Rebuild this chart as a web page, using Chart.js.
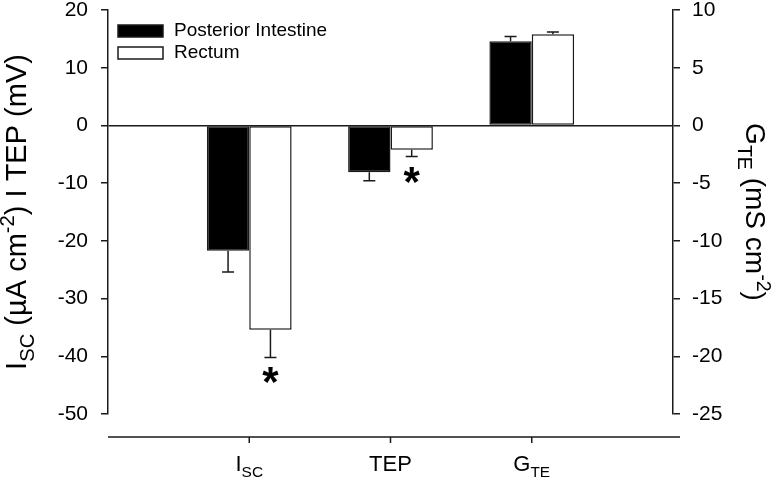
<!DOCTYPE html>
<html>
<head>
<meta charset="utf-8">
<script src="https://cdn.jsdelivr.net/npm/chart.js@4.4.0/dist/chart.umd.min.js"></script>
<style>
  html, body { margin: 0; padding: 0; background: #fff; }
  #wrap { width: 776px; height: 484px; }
</style>
</head>
<body>
<div id="wrap"><canvas id="chart" width="776" height="484"></canvas></div>
<script>
// categories (main text + subscript part)
const categoryNames = ['I', 'TEP', 'G'];
const categorySubs = ['SC', '', 'TE'];
// I_SC and TEP read on the left axis, G_TE on the right axis
const categoryAxis = ['yL', 'yL', 'yR'];

const seriesNames = ['Posterior Intestine', 'Rectum'];
const posteriorMean = [-21.7, -8.1, 7.3];
const posteriorErr = [3.7, 1.5, 0.4];
const rectumMean = [-35.4, -4.2, 7.9];
const rectumErr = [4.8, 1.2, 0.2];
const rectumSignificant = [true, true, false];
const posteriorSignificant = [false, false, false];

const leftTicks = [-50, -40, -30, -20, -10, 0, 10, 20];
const rightTicks = [-25, -20, -15, -10, -5, 0, 5, 10];

const INK = '#1a1a1a';
const FONT = 'Arial, "Liberation Sans", sans-serif';

// empty slots at both ends so the three groups sit at 1/4, 2/4, 3/4 of the axis
const xLabels = ['', ...categoryNames.map((n, i) => n + (categorySubs[i] ? '_' + categorySubs[i] : '')), ''];

// put a value in the slot only when its category belongs to the given axis
function slot(values, axisId) {
    return [null, ...values.map((v, i) => categoryAxis[i] === axisId ? v : null), null];
}

function makeSets(name, mean, err, sig, fill, stack) {
    return ['yL', 'yR'].map(axisId => ({
        label: name,
        data: slot(mean, axisId),
        errors: slot(err, axisId),
        marks: slot(sig, axisId),
        yAxisID: axisId,
        stack: stack,
        backgroundColor: fill,
        borderColor: INK,
        borderWidth: 1.5,
        borderSkipped: false,
    }));
}

const datasets = [
    ...makeSets(seriesNames[0], posteriorMean, posteriorErr, posteriorSignificant, '#000', 'pi'),
    ...makeSets(seriesNames[1], rectumMean, rectumErr, rectumSignificant, '#fff', 'r'),
];

// error bars + significance stars
const errorBarPlugin = {
    id: 'errorBars',
    afterDatasetsDraw(chart) {
        const ctx = chart.ctx;
        ctx.save();
        chart.data.datasets.forEach((ds, d) => {
            const meta = chart.getDatasetMeta(d);
            const yScale = chart.scales[ds.yAxisID];
            ds.data.forEach((v, i) => {
                if (v === null) return;
                const bar = meta.data[i];
                const tip = v + Math.sign(v) * ds.errors[i];
                const y1 = yScale.getPixelForValue(tip);
                ctx.strokeStyle = INK;
                ctx.lineWidth = 1.5;
                ctx.beginPath();
                ctx.moveTo(bar.x, bar.y);
                ctx.lineTo(bar.x, y1);
                ctx.moveTo(bar.x - 6, y1);
                ctx.lineTo(bar.x + 6, y1);
                ctx.stroke();

                if (ds.marks[i]) {
                    ctx.font = 'bold 42px ' + FONT;
                    ctx.fillStyle = '#000';
                    ctx.textAlign = 'center';
                    ctx.textBaseline = 'alphabetic';
                    const m = ctx.measureText('*');
                    const cy = y1 + Math.sign(v) * -18;
                    const base = cy + (m.actualBoundingBoxAscent - m.actualBoundingBoxDescent) / 2;
                    ctx.fillText('*', bar.x, base);
                }
            });
        });
        ctx.restore();
    }
};

// draw text made of parts: [text, 'n'|'sub'|'sup']
function drawParts(ctx, parts, size, startX, baseY) {
    let x = startX;
    parts.forEach(([t, kind]) => {
        const s = kind === 'n' ? size : size * 0.7;
        const dy = kind === 'sub' ? size * 0.28 : kind === 'sup' ? -size * 0.4 : 0;
        ctx.font = s + 'px ' + FONT;
        ctx.fillText(t, x, baseY + dy);
        x += ctx.measureText(t).width;
    });
}

function partsWidth(ctx, parts, size) {
    return parts.reduce((w, [t, kind]) => {
        ctx.font = (kind === 'n' ? size : size * 0.7) + 'px ' + FONT;
        return w + ctx.measureText(t).width;
    }, 0);
}

// bottom axis line (set below the plot), tick marks, labels, titles, legend
const decorPlugin = {
    id: 'decor',
    afterDraw(chart) {
        const ctx = chart.ctx;
        const area = chart.chartArea;
        const xScale = chart.scales.x;
        ctx.save();
        ctx.fillStyle = '#000';
        ctx.textAlign = 'left';
        ctx.textBaseline = 'alphabetic';

        // x axis
        const axisY = area.bottom + 23;
        ctx.strokeStyle = INK;
        ctx.lineWidth = 1.5;
        ctx.beginPath();
        ctx.moveTo(area.left, axisY);
        ctx.lineTo(area.right + 7, axisY);
        categoryNames.forEach((n, i) => {
            const px = xScale.getPixelForValue(i + 1);
            ctx.moveTo(px, axisY);
            ctx.lineTo(px, axisY + 6);
        });
        ctx.stroke();

        categoryNames.forEach((n, i) => {
            const px = xScale.getPixelForValue(i + 1);
            const parts = [[n, 'n']];
            if (categorySubs[i]) parts.push([categorySubs[i], 'sub']);
            const w = partsWidth(ctx, parts, 22);
            drawParts(ctx, parts, 22, px - w / 2, axisY + 34);
        });

        // left title
        const midY = (area.top + area.bottom) / 2;
        const leftTitle = [['I', 'n'], ['SC', 'sub'], [' (\u00B5A cm', 'n'], ['-2', 'sup'], [') I TEP (mV)', 'n']];
        ctx.save();
        ctx.translate(26, midY);
        ctx.rotate(-Math.PI / 2);
        drawParts(ctx, leftTitle, 29, -partsWidth(ctx, leftTitle, 29) / 2, 0);
        ctx.restore();

        // right title
        const rightTitle = [['G', 'n'], ['TE', 'sub'], [' (mS cm', 'n'], ['-2', 'sup'], [')', 'n']];
        ctx.save();
        ctx.translate(746, midY);
        ctx.rotate(Math.PI / 2);
        drawParts(ctx, rightTitle, 28, -partsWidth(ctx, rightTitle, 28) / 2, 0);
        ctx.restore();

        // legend
        const fills = ['#000', '#fff'];
        seriesNames.forEach((name, i) => {
            const bx = area.left + 10;
            const by = area.top + 15 + i * 22;
            ctx.fillStyle = fills[i];
            ctx.fillRect(bx, by, 45, 12);
            ctx.strokeStyle = INK;
            ctx.lineWidth = 1.5;
            ctx.strokeRect(bx, by, 45, 12);
            ctx.fillStyle = '#000';
            ctx.font = '19px ' + FONT;
            ctx.textBaseline = 'middle';
            ctx.fillText(name, bx + 56, by + 6);
            ctx.textBaseline = 'alphabetic';
        });
        ctx.restore();
    }
};

Chart.defaults.font.family = FONT;
Chart.defaults.color = '#000';

new Chart(document.getElementById('chart'), {
    type: 'bar',
    data: { labels: xLabels, datasets: datasets },
    options: {
        responsive: false,
        animation: false,
        categoryPercentage: 0.6,
        barPercentage: 1.0,
        layout: { padding: { top: 10, left: 0, right: 0, bottom: 0 } },
        plugins: {
            legend: { display: false },
            tooltip: { enabled: false },
        },
        scales: {
            x: {
                type: 'category',
                offset: false,
                grid: { display: false },
                border: { display: false },
                ticks: { display: false },
                afterFit(s) { s.height = 70; s.paddingLeft = 0; s.paddingRight = 0; },
            },
            yL: {
                position: 'left',
                min: leftTicks[0],
                max: leftTicks[leftTicks.length - 1],
                afterBuildTicks(s) { s.ticks = leftTicks.map(v => ({ value: v })); },
                ticks: { font: { size: 21 }, color: '#000', padding: 13 },
                grid: {
                    drawOnChartArea: true,
                    color: (c) => c.tick && c.tick.value === 0 ? INK : 'rgba(0,0,0,0)',
                    tickColor: INK,
                    lineWidth: 1.5,
                    tickLength: 7,
                },
                border: { display: true, color: INK, width: 1.5 },
                afterFit(s) { s.width = 108; s.paddingTop = 0; s.paddingBottom = 0; },
            },
            yR: {
                position: 'right',
                min: rightTicks[0],
                max: rightTicks[rightTicks.length - 1],
                afterBuildTicks(s) { s.ticks = rightTicks.map(v => ({ value: v })); },
                ticks: { font: { size: 21 }, color: '#000', padding: 12 },
                grid: {
                    drawOnChartArea: false,
                    color: INK,
                    tickColor: INK,
                    lineWidth: 1.5,
                    tickLength: 7,
                },
                border: { display: true, color: INK, width: 1.5 },
                afterFit(s) { s.width = 103; s.paddingTop = 0; s.paddingBottom = 0; },
            },
        },
    },
    plugins: [errorBarPlugin, decorPlugin],
});
</script>
</body>
</html>
